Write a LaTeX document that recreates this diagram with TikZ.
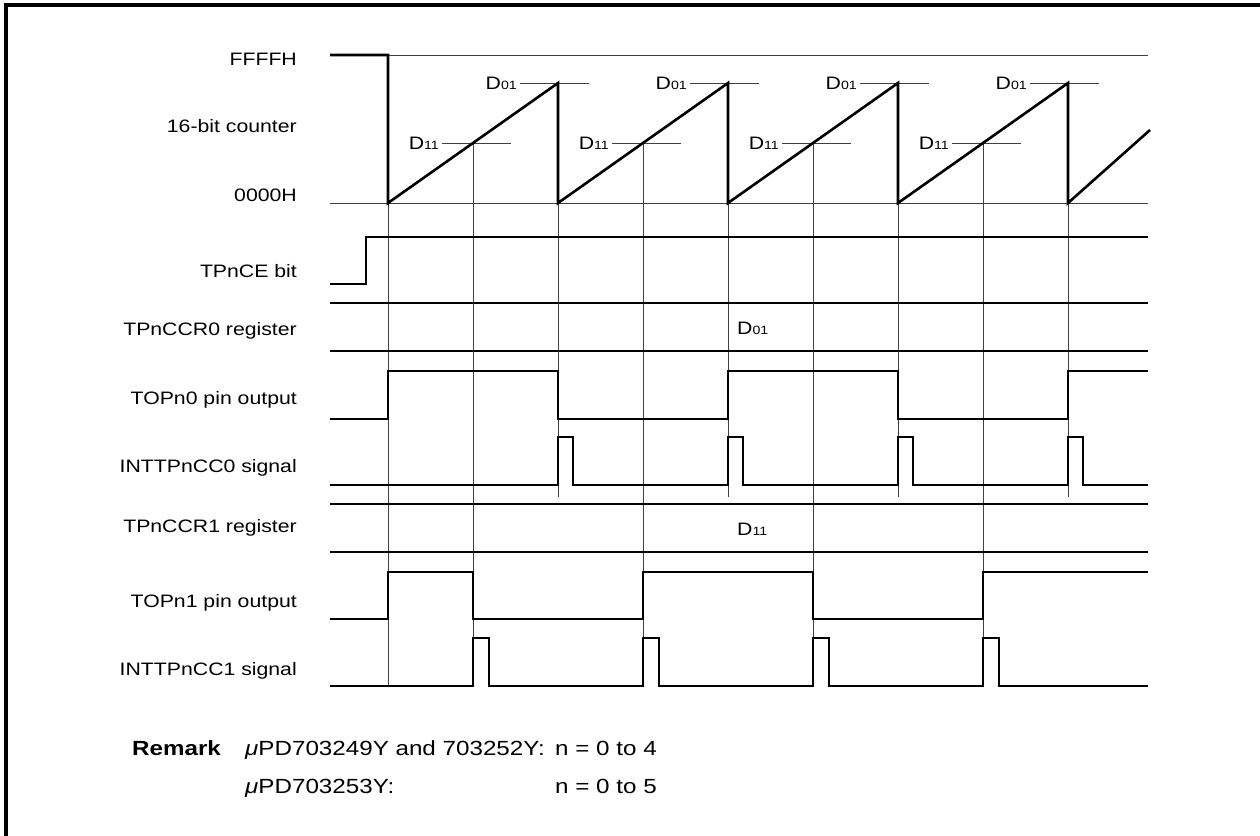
\documentclass[tikz,border=0pt]{standalone}
\usepackage{fontspec}
\setmainfont{Liberation Sans}[FakeStretch=1.18]
\begin{document}
\begin{tikzpicture}[x=1pt,y=-1pt,
  sig/.style={line width=2.6pt},
  grd/.style={line width=0.9pt, black!75},
  lbl/.style={anchor=base east, inner sep=0pt, font=\fontsize{18}{21}\selectfont},
  dlab/.style={anchor=base east, inner sep=0pt, font=\fontsize{18}{21}\selectfont},
  reglab/.style={anchor=base west, inner sep=0pt, font=\fontsize{18}{21}\selectfont},
  rem/.style={anchor=base west, inner sep=0pt, font=\fontsize{20.5}{24}\selectfont}]
\useasboundingbox (0,0) rectangle (1260,835);
\draw[line width=3.5pt] (6,900) -- (6,5) -- (1300,5);

% row labels
\node[lbl] (lF) at (297,65) {FFFFH};
\node[lbl] (lC) at (297,132) {16-bit counter};
\node[lbl] (l0) at (297,201) {0000H};
\node[lbl] (lCE) at (297,277) {TPnCE bit};
\node[lbl] (lR0) at (297,335) {TPnCCR0 register};
\node[lbl] (lO0) at (297,404) {TOPn0 pin output};
\node[lbl] (lI0) at (297,472) {INTTPnCC0 signal};
\node[lbl] (lR1) at (297,532) {TPnCCR1 register};
\node[lbl] (lO1) at (297,607) {TOPn1 pin output};
\node[lbl] (lI1) at (297,675) {INTTPnCC1 signal};

% grid lines
\draw[grd] (388,55) -- (1148,55);
\draw[grd] (330,203) -- (1148,203);
\draw[grd] (388,203) -- (388,686);
\foreach \x in {558,728,898,1068} \draw[grd] (\x,203) -- (\x,497);
\foreach \x in {473,643,813,983} \draw[grd] (\x,143) -- (\x,686);

% D01 / D11 level marks
\foreach \x in {558,728,898,1068} {
  \draw[grd] (\x-38,83) -- (\x+31,83);
  \node[dlab] (d0\x) at (\x-41,89.5) {D{\fontsize{12}{12}\selectfont 01}};
}
\foreach \x in {473,643,813,983} {
  \draw[grd] (\x-31,143) -- (\x+38,143);
  \node[dlab] (d1\x) at (\x-34,149.5) {D{\fontsize{12}{12}\selectfont 11}};
}

% 16-bit counter
\draw[sig] (330,55) -- (388,55) -- (388,203) -- (558,83) -- (558,203) -- (728,83) -- (728,203)
  -- (898,83) -- (898,203) -- (1068,83) -- (1068,203) -- (1150,130);

% TPnCE bit
\draw[sig] (330,284) -- (366,284) -- (366,237) -- (1148,237);

% TPnCCR0 register
\draw[sig] (330,303) -- (1148,303);
\draw[sig] (330,351) -- (1148,351);
\node[reglab] (v0) at (737,334) {D{\fontsize{12}{12}\selectfont 01}};

% TOPn0
\draw[sig] (330,419) -- (388,419) -- (388,371) -- (558,371) -- (558,419) -- (728,419) -- (728,371)
  -- (898,371) -- (898,419) -- (1068,419) -- (1068,371) -- (1148,371);

% INTTPnCC0
\draw[sig] (330,485) -- (558,485) -- (558,437) -- (573,437) -- (573,485)
  -- (728,485) -- (728,437) -- (743,437) -- (743,485)
  -- (898,485) -- (898,437) -- (913,437) -- (913,485)
  -- (1068,485) -- (1068,437) -- (1083,437) -- (1083,485) -- (1148,485);

% TPnCCR1 register
\draw[sig] (330,504) -- (1148,504);
\draw[sig] (330,552) -- (1148,552);
\node[reglab] (v1) at (737,535) {D{\fontsize{12}{12}\selectfont 11}};

% TOPn1
\draw[sig] (330,619) -- (388,619) -- (388,572) -- (473,572) -- (473,619) -- (643,619) -- (643,572)
  -- (813,572) -- (813,619) -- (983,619) -- (983,572) -- (1148,572);

% INTTPnCC1
\draw[sig] (330,686) -- (473,686) -- (473,638) -- (489,638) -- (489,686)
  -- (643,686) -- (643,638) -- (659,638) -- (659,686)
  -- (813,686) -- (813,638) -- (829,638) -- (829,686)
  -- (983,686) -- (983,638) -- (999,638) -- (999,686) -- (1148,686);

% Remark
\node[rem, font=\bfseries\fontsize{20.5}{24}\selectfont] (rk) at (132,755) {Remark};
\node[rem] (r1) at (245,755) {\textit{μ}PD703249Y and 703252Y:};
\node[rem] (r1n) at (555,755) {n = 0 to 4};
\node[rem] (r2) at (245,793) {\textit{μ}PD703253Y:};
\node[rem] (r2n) at (555,793) {n = 0 to 5};
\end{tikzpicture}
\end{document}
